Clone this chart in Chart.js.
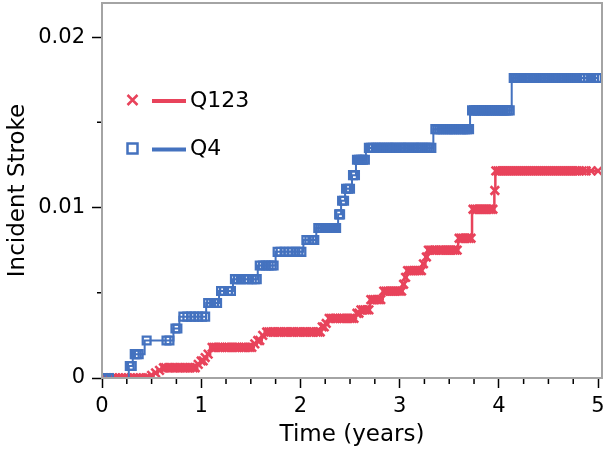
<!DOCTYPE html>
<html>
<head>
<meta charset="utf-8">
<script src="https://cdn.jsdelivr.net/npm/chart.js@4.4.0/dist/chart.umd.min.js"></script>
<style>
  html, body { margin: 0; padding: 0; background: #fff; }
</style>
</head>
<body>
<canvas id="km" width="606" height="455"></canvas>
<script>
// Q123: time at which each level starts, the level, and censor times on each level
const q123Times = [0, 0.48, 0.52, 0.56, 0.6, 0.96, 0.99, 1.03, 1.06, 1.09, 1.53, 1.56, 1.61, 1.64, 2.21, 2.25, 2.28, 2.56, 2.6, 2.7, 2.83, 3.03, 3.05, 3.07, 3.23, 3.26, 3.28, 3.59, 3.73, 3.955, 3.965];
const q123Levels = [0, 0.00015, 0.0003, 0.00045, 0.0006, 0.0008, 0.001, 0.0012, 0.0014, 0.0018, 0.002, 0.0022, 0.0025, 0.0027, 0.003, 0.0032, 0.0035, 0.0038, 0.004, 0.0046, 0.0051, 0.0055, 0.0059, 0.0063, 0.0067, 0.0071, 0.0075, 0.0082, 0.0099, 0.011, 0.01215];
const q123Censor = [
    [0.02, 0.05, 0.08, 0.11, 0.14, 0.17, 0.2, 0.23, 0.26, 0.29, 0.32, 0.35, 0.38, 0.41, 0.44, 0.46],
    [0.5],
    [0.54],
    [0.58],
    [0.62, 0.64, 0.67, 0.69, 0.72, 0.74, 0.77, 0.79, 0.82, 0.84, 0.87, 0.89, 0.92, 0.94],
    [0.97],
    [1.0, 1.02],
    [1.04],
    [1.07],
    [1.11, 1.13, 1.15, 1.17, 1.19, 1.21, 1.24, 1.26, 1.28, 1.3, 1.32, 1.34, 1.36, 1.38, 1.41, 1.43, 1.45, 1.47, 1.49, 1.51],
    [1.54],
    [1.57, 1.59],
    [1.62],
    [1.66, 1.68, 1.7, 1.72, 1.74, 1.77, 1.79, 1.81, 1.83, 1.85, 1.87, 1.9, 1.92, 1.94, 1.96, 1.98, 2.0, 2.03, 2.05, 2.07, 2.09, 2.11, 2.13, 2.16, 2.18, 2.2],
    [2.22, 2.24],
    [2.26],
    [2.29, 2.31, 2.33, 2.35, 2.37, 2.4, 2.42, 2.44, 2.46, 2.48, 2.5, 2.52, 2.54],
    [2.57, 2.59],
    [2.61, 2.63, 2.65, 2.67, 2.69],
    [2.71, 2.73, 2.75, 2.77, 2.79, 2.81],
    [2.84, 2.86, 2.88, 2.9, 2.92, 2.94, 2.96, 2.98, 3.0, 3.02],
    [3.04],
    [3.06],
    [3.08, 3.1, 3.12, 3.14, 3.16, 3.18, 3.2, 3.22],
    [3.24],
    [3.27],
    [3.29, 3.31, 3.33, 3.35, 3.37, 3.4, 3.42, 3.44, 3.46, 3.48, 3.5, 3.52, 3.54, 3.56, 3.58],
    [3.6, 3.62, 3.64, 3.66, 3.68, 3.7, 3.72],
    [3.74, 3.76, 3.78, 3.8, 3.82, 3.84, 3.86, 3.88, 3.9, 3.92, 3.94],
    [3.96],
    [3.97, 3.99, 4.01, 4.03, 4.05, 4.07, 4.09, 4.11, 4.13, 4.15, 4.17, 4.19, 4.21, 4.23, 4.25, 4.27, 4.29, 4.31, 4.33, 4.35, 4.37, 4.39, 4.41, 4.43, 4.45, 4.47, 4.49, 4.51, 4.53, 4.55, 4.57, 4.59, 4.61, 4.63, 4.65, 4.67, 4.69, 4.71, 4.73, 4.75, 4.77, 4.79, 4.81, 4.84, 4.88, 4.93, 5.0]
];

// Q4
const q4Times = [0, 0.27, 0.31, 0.43, 0.72, 0.78, 1.05, 1.18, 1.32, 1.57, 1.75, 2.03, 2.16, 2.38, 2.41, 2.45, 2.52, 2.56, 2.66, 3.34, 3.71, 4.13];
const q4Levels = [0, 0.0007, 0.0014, 0.0022, 0.0029, 0.0036, 0.0044, 0.0051, 0.0058, 0.0066, 0.0074, 0.0081, 0.0088, 0.0096, 0.0104, 0.0111, 0.0119, 0.0128, 0.0135, 0.0146, 0.0157, 0.0176];
const q4Censor = [
    [0.02, 0.04, 0.07],
    [0.28, 0.3],
    [0.33, 0.35, 0.37],
    [0.45, 0.65, 0.68],
    [0.74, 0.76],
    [0.82, 0.86, 0.9, 0.93, 0.97, 1.01, 1.04],
    [1.07, 1.1, 1.13, 1.16],
    [1.2, 1.23, 1.27, 1.3],
    [1.34, 1.37, 1.4, 1.44, 1.47, 1.51, 1.54, 1.56],
    [1.59, 1.62, 1.65, 1.68, 1.71, 1.73],
    [1.77, 1.8, 1.84, 1.88, 1.91, 1.95, 1.98, 2.01],
    [2.06, 2.09, 2.12, 2.14],
    [2.18, 2.2, 2.22, 2.24, 2.26, 2.28, 2.3, 2.32, 2.34, 2.36],
    [2.39, 2.4],
    [2.42, 2.44],
    [2.46, 2.48, 2.5],
    [2.53, 2.55],
    [2.57, 2.59, 2.61, 2.63, 2.65],
    [2.69, 2.71, 2.73, 2.76, 2.78, 2.8, 2.82, 2.84, 2.87, 2.89, 2.91, 2.93, 2.95, 2.97, 3.0, 3.02, 3.04, 3.06, 3.08, 3.1, 3.13, 3.15, 3.17, 3.19, 3.21, 3.23, 3.26, 3.28, 3.3, 3.32],
    [3.36, 3.38, 3.4, 3.42, 3.44, 3.47, 3.49, 3.51, 3.53, 3.55, 3.57, 3.6, 3.62, 3.64, 3.66, 3.68, 3.7],
    [3.73, 3.75, 3.77, 3.79, 3.81, 3.84, 3.86, 3.88, 3.9, 3.92, 3.94, 3.97, 3.99, 4.01, 4.03, 4.05, 4.07, 4.09, 4.11],
    [4.15, 4.17, 4.19, 4.21, 4.23, 4.26, 4.28, 4.3, 4.32, 4.34, 4.36, 4.38, 4.41, 4.43, 4.45, 4.47, 4.49, 4.51, 4.54, 4.56, 4.58, 4.6, 4.62, 4.64, 4.66, 4.69, 4.71, 4.73, 4.75, 4.77, 4.79, 4.82, 4.86, 4.9, 4.93, 4.96, 4.99]
];

const seriesNames = ['Q123', 'Q4'];
const xMajorTicks = [0, 1, 2, 3, 4, 5];
const xMinorTicks = [0.25, 0.5, 0.75, 1.25, 1.5, 1.75, 2.25, 2.5, 2.75, 3.25, 3.5, 3.75, 4.25, 4.5, 4.75];
const yMajorTicks = [0, 0.01, 0.02];
const yTickLabels = ['0', '0.01', '0.02'];
const yMinorTicks = [0.005, 0.015];

const RED = '#e8435b';
const BLUE = '#4472bf';
const FONT = '"DejaVu Sans", sans-serif';

// step line: one point per level start, then run on to the last censored time
function stepPoints(times, levels, censor) {
    const pts = times.map((t, i) => ({x: t, y: levels[i]}));
    const last = censor[censor.length - 1];
    pts.push({x: last[last.length - 1], y: levels[levels.length - 1]});
    return pts;
}
function censorPoints(levels, censor) {
    return censor.flatMap((arr, i) => arr.map(t => ({x: t, y: levels[i]})));
}

const frameAndLegend = {
    id: 'frameAndLegend',
    afterDatasetsDraw(chart) {
        const {ctx, chartArea: a, scales: {x, y}} = chart;
        ctx.save();

        // minor ticks
        ctx.strokeStyle = '#000';
        ctx.lineWidth = 1.5;
        ctx.beginPath();
        xMinorTicks.forEach(v => {
            const px = x.getPixelForValue(v);
            ctx.moveTo(px, a.bottom);
            ctx.lineTo(px, a.bottom + 6);
        });
        yMinorTicks.forEach(v => {
            const py = y.getPixelForValue(v);
            ctx.moveTo(a.left, py);
            ctx.lineTo(a.left - 5, py);
        });
        ctx.stroke();

        // grey box
        ctx.strokeStyle = '#a4a4a4';
        ctx.lineWidth = 2;
        ctx.strokeRect(a.left, a.top, a.right - a.left, a.bottom - a.top);

        // legend: marker, short line, name
        const rows = [
            {name: seriesNames[0], color: RED, marker: 'cross', y: 100},
            {name: seriesNames[1], color: BLUE, marker: 'square', y: 148.5}
        ];
        rows.forEach(r => {
            ctx.strokeStyle = r.color;
            ctx.lineWidth = 2.5;
            ctx.beginPath();
            if (r.marker === 'cross') {
                ctx.moveTo(127.5, r.y - 5); ctx.lineTo(137.5, r.y + 5);
                ctx.moveTo(127.5, r.y + 5); ctx.lineTo(137.5, r.y - 5);
            } else {
                ctx.rect(127.5, r.y - 5, 10, 10);
            }
            ctx.stroke();
            ctx.lineWidth = 4;
            ctx.beginPath();
            ctx.moveTo(152, r.y + 1);
            ctx.lineTo(186, r.y + 1);
            ctx.stroke();
            ctx.fillStyle = '#000';
            ctx.font = '22px ' + FONT;
            ctx.textBaseline = 'middle';
            ctx.textAlign = 'left';
            ctx.fillText(r.name, 190, r.y + 1);
        });
        ctx.restore();
    }
};

const ctx = document.getElementById('km').getContext('2d');

new Chart(ctx, {
    type: 'line',
    data: {
        datasets: [
            {
                label: seriesNames[1],
                data: stepPoints(q4Times, q4Levels, q4Censor),
                borderColor: BLUE,
                borderWidth: 2,
                stepped: 'before',
                pointRadius: 0,
                fill: false
            },
            {
                label: seriesNames[1] + ' censored',
                data: censorPoints(q4Levels, q4Censor),
                showLine: false,
                pointStyle: 'rect',
                pointRadius: 5.5,
                pointBorderWidth: 2.3,
                pointBorderColor: BLUE,
                pointBackgroundColor: 'rgba(0,0,0,0)'
            },
            {
                label: seriesNames[0],
                data: stepPoints(q123Times, q123Levels, q123Censor),
                borderColor: RED,
                borderWidth: 2.5,
                stepped: 'before',
                pointRadius: 0,
                fill: false
            },
            {
                label: seriesNames[0] + ' censored',
                data: censorPoints(q123Levels, q123Censor),
                showLine: false,
                pointStyle: 'crossRot',
                pointRadius: 6,
                pointBorderWidth: 2.6,
                pointBorderColor: RED,
                pointBackgroundColor: RED
            }
        ]
    },
    options: {
        responsive: false,
        animation: false,
        devicePixelRatio: 1,
        events: [],
        layout: {
            autoPadding: false,
            padding: {top: 3, right: 4, left: 0, bottom: 0}
        },
        plugins: {
            legend: { display: false },
            tooltip: { enabled: false }
        },
        scales: {
            x: {
                type: 'linear',
                min: 0,
                max: 5.04,
                afterBuildTicks: s => { s.ticks = xMajorTicks.map(v => ({value: v})); },
                afterFit: s => { s.height = 77; s.paddingLeft = 0; s.paddingRight = 0; },
                border: { display: false },
                grid: {
                    drawOnChartArea: false,
                    tickLength: 10,
                    tickColor: '#000',
                    tickWidth: 1.5
                },
                ticks: {
                    color: '#000',
                    padding: 6,
                    maxRotation: 0,
                    autoSkip: false,
                    font: { family: FONT, size: 21 },
                    callback: v => String(v)
                },
                title: {
                    display: true,
                    text: 'Time (years)',
                    color: '#000',
                    font: { family: FONT, size: 23 },
                    padding: { top: 0, bottom: 6 }
                }
            },
            y: {
                type: 'linear',
                min: 0,
                max: 0.022,
                afterBuildTicks: s => { s.ticks = yMajorTicks.map(v => ({value: v})); },
                afterFit: s => { s.width = 102; s.paddingTop = 0; s.paddingBottom = 0; },
                border: { display: false },
                grid: {
                    drawOnChartArea: false,
                    tickLength: 10,
                    tickColor: '#000',
                    tickWidth: 1.5
                },
                ticks: {
                    color: '#000',
                    padding: 7,
                    font: { family: FONT, size: 21 },
                    callback: v => yTickLabels[yMajorTicks.indexOf(v)]
                },
                title: {
                    display: true,
                    text: 'Incident Stroke',
                    color: '#000',
                    font: { family: FONT, size: 23 },
                    padding: { top: 4, bottom: 4 }
                }
            }
        }
    },
    plugins: [frameAndLegend]
});
</script>
</body>
</html>
